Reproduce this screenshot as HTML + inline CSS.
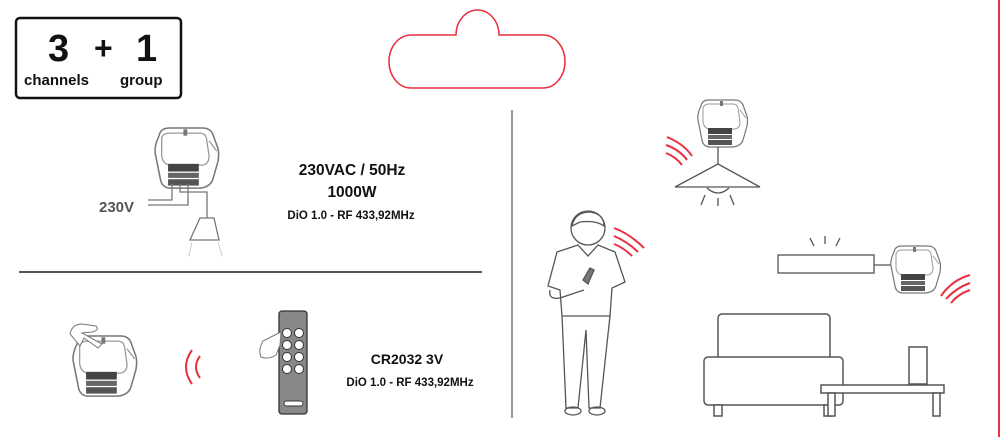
<!DOCTYPE html>
<html><head><meta charset="utf-8"><style>
html,body{margin:0;padding:0;background:#fff;}
svg{display:block;}
text{font-family:"Liberation Sans",sans-serif;font-weight:bold;}
</style></head><body>
<svg width="1001" height="437" viewBox="0 0 1001 437" xmlns="http://www.w3.org/2000/svg">
<defs>
<g id="mod">
 <path d="M4,6 Q5,0 12,0 L38,0 Q44,0 46,5 L50,16 Q51,20 50,26 L46,40 Q44,46 36,47 L12,47 Q6,46 5,40 L1,20 Q0,14 4,6 Z" fill="#fff" stroke="#777" stroke-width="1.2"/>
 <path d="M6,8 Q7,4 12,4 L36,4 Q40,4 41,8 L43,22 Q43,28 38,29 L12,29 Q7,28 6,22 Z" fill="none" stroke="#999" stroke-width="1"/>
 <path d="M43,10 L49,18" stroke="#999" stroke-width="1"/>
 <rect x="11" y="28" width="24" height="6" fill="#444"/>
 <rect x="11" y="35" width="24" height="4" fill="#666"/>
 <rect x="11" y="40" width="24" height="5" fill="#555"/>
 <rect x="23" y="1" width="3" height="5" fill="#777"/>
</g>
</defs>
<line x1="999" y1="0" x2="999" y2="437" stroke="#e8303e" stroke-width="2"/>
<!-- box -->
<rect x="16" y="18" width="165" height="80" rx="4" fill="none" stroke="#111" stroke-width="2.5"/>
<text x="48" y="61" font-size="38" fill="#111">3</text>
<text x="94" y="59" font-size="32" fill="#111">+</text>
<text x="136" y="61" font-size="38" fill="#111">1</text>
<text x="24" y="85" font-size="15" fill="#111" font-weight="normal">channels</text>
<text x="120" y="85" font-size="15" fill="#111" font-weight="normal">group</text>
<!-- cloud -->
<path d="M411,35 L456,35 A21.5,25 0 0 1 499,35 L543,35 A22,26.5 0 0 1 543,88 L411,88 A22,26.5 0 0 1 411,35 Z" fill="none" stroke="#e8303e" stroke-width="1.5"/>
<!-- top-left module + wiring -->
<use href="#mod" transform="translate(154,128) scale(1.28)"/>
<g stroke="#777" stroke-width="1.3" fill="none">
<path d="M148,200 L172,200 L172,184"/>
<path d="M148,205 L188,205 L188,184"/>
<path d="M180,184 L180,192 L207,192 L207,218"/>
<path d="M200,218 L214,218 L219,240 L190,240 Z"/>
</g>
<g stroke="#ccc" stroke-width="1"><line x1="192" y1="242" x2="189" y2="256"/><line x1="218" y1="242" x2="222" y2="256"/></g>
<text x="99" y="212" font-size="15" fill="#555">230V</text>
<text x="352" y="175" font-size="15.5" fill="#111" text-anchor="middle">230VAC / 50Hz</text>
<text x="352" y="197" font-size="15.5" fill="#111" text-anchor="middle">1000W</text>
<text x="351" y="219" font-size="11.5" fill="#111" text-anchor="middle">DiO 1.0 - RF 433,92MHz</text>
<line x1="19" y1="272" x2="482" y2="272" stroke="#555" stroke-width="2"/>
<line x1="512" y1="110" x2="512" y2="418" stroke="#555" stroke-width="1.2"/>
<!-- bottom-left module -->
<use href="#mod" transform="translate(72,336) scale(1.28)"/>
<path d="M70,334 Q72,324 82,324 L96,326 Q100,330 92,332 L82,333 L102,344 L98,348 L84,338 L80,346 Z" fill="#fff" stroke="#777" stroke-width="1"/>
<g stroke="#e8303e" stroke-width="2" fill="none">
<path d="M192,350 Q180,367 192,384"/><path d="M200,356 Q192,367 200,378"/>
</g>
<!-- remote -->
<rect x="279" y="311" width="28" height="103" rx="3" fill="#888" stroke="#333" stroke-width="1.3"/>
<g fill="#fff" stroke="#333" stroke-width="1">
<circle cx="287" cy="333" r="4.5"/><circle cx="299" cy="333" r="4.5"/>
<circle cx="287" cy="345" r="4.5"/><circle cx="299" cy="345" r="4.5"/>
<circle cx="287" cy="357" r="4.5"/><circle cx="299" cy="357" r="4.5"/>
<circle cx="287" cy="369" r="4.5"/><circle cx="299" cy="369" r="4.5"/>
<rect x="284" y="401" width="19" height="5" rx="2.5"/>
</g>
<path d="M281,332 L263,341 Q258,350 261,357 Q268,360 276,355 L280,345 Z" fill="#fff" stroke="#777" stroke-width="1"/>
<text x="407" y="364" font-size="14" fill="#111" text-anchor="middle">CR2032 3V</text>
<text x="410" y="386" font-size="11.5" fill="#111" text-anchor="middle">DiO 1.0 - RF 433,92MHz</text>
<!-- lamp -->
<use href="#mod" x="697" y="100"/>
<g stroke="#555" stroke-width="1.3" fill="none">
<line x1="718" y1="147" x2="718" y2="164"/>
<path d="M718,164 L760,187 L675,187 Z" fill="#fff"/>
<path d="M707,188 Q718,198 729,188"/>
<line x1="705" y1="195" x2="701" y2="205"/><line x1="718" y1="198" x2="718" y2="206"/><line x1="730" y1="195" x2="734" y2="205"/>
</g>
<g stroke="#e8303e" stroke-width="2" fill="none">
<path d="M667,137 Q684,144 692,156"/><path d="M666,145 Q680,150 687,160"/><path d="M666,153 Q676,157 682,165"/>
<path d="M614,228 Q630,234 644,248"/><path d="M614,236 Q628,242 638,252"/><path d="M614,244 Q624,248 632,256"/>
<path d="M941,296 Q952,280 970,275"/><path d="M946,299 Q956,288 970,283"/><path d="M951,303 Q958,294 970,290"/>
</g>
<!-- strip light -->
<g stroke="#555" stroke-width="1.3" fill="none">
<rect x="778" y="255" width="96" height="18" fill="#fff"/>
<line x1="874" y1="265" x2="892" y2="265"/>
<line x1="810" y1="238" x2="814" y2="246"/><line x1="825" y1="236" x2="825" y2="244"/><line x1="840" y1="238" x2="836" y2="246"/>
</g>
<use href="#mod" x="890" y="246"/>
<!-- person -->
<g stroke="#555" stroke-width="1.3" fill="none">
<ellipse cx="588" cy="228" rx="17" ry="17" fill="#fff"/>
<path d="M572,226 Q575,212 590,212 Q604,214 604,226 Q596,220 580,222 Z" fill="#fff"/>
<path d="M557,252 L578,245 L588,256 L598,245 L615,252 L625,282 L612,288 L610,316 L562,316 L560,290 L548,286 Z" fill="#fff"/>
<path d="M550,290 Q548,300 560,298 L584,290"/>
<path d="M583,280 L590,268 L594,270 L588,284 Z" fill="#777"/>
<path d="M562,316 L566,408 L578,408 L586,330 L589,408 L600,408 L610,316"/>
<ellipse cx="573" cy="411" rx="8" ry="4"/><ellipse cx="597" cy="411" rx="8" ry="4"/>
</g>
<!-- sofa -->
<g stroke="#555" stroke-width="1.5" fill="#fff">
<rect x="718" y="314" width="112" height="45" rx="4"/>
<rect x="704" y="357" width="139" height="48" rx="4"/>
<rect x="714" y="405" width="8" height="11"/><rect x="824" y="405" width="8" height="11"/>
<rect x="909" y="347" width="18" height="37"/>
<rect x="821" y="385" width="123" height="8"/>
<rect x="828" y="393" width="7" height="23"/><rect x="933" y="393" width="7" height="23"/>
</g>
</svg>
</body></html>
